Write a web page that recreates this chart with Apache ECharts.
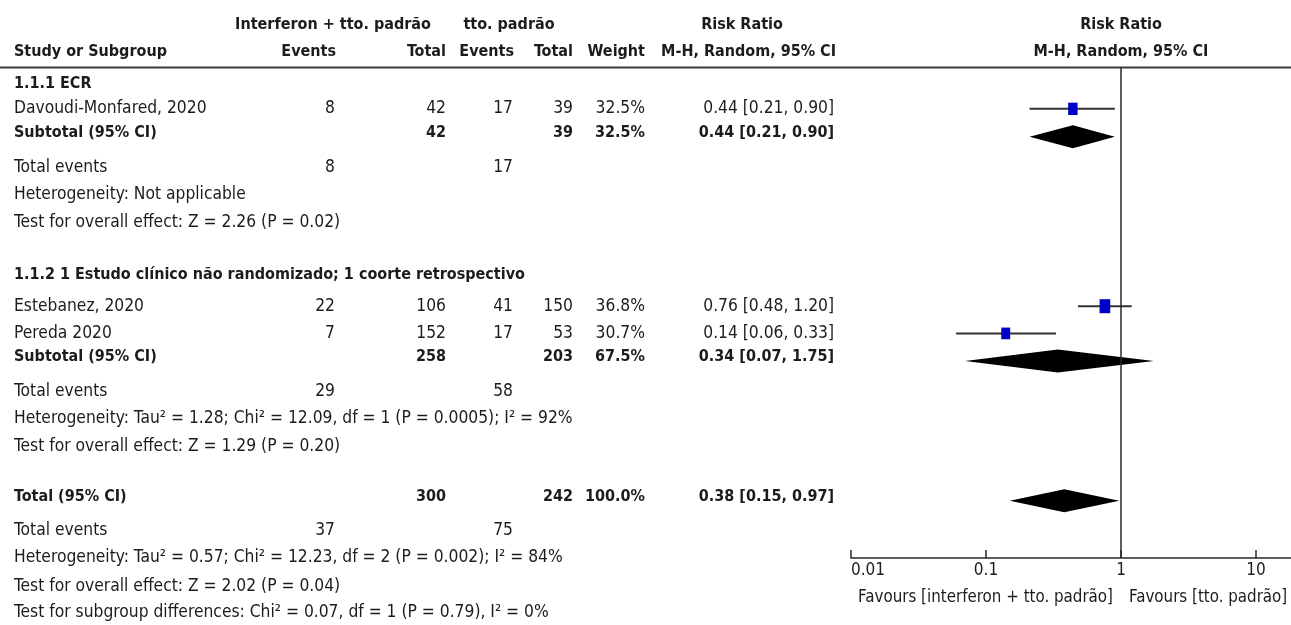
<!DOCTYPE html>
<html>
<head>
<meta charset="utf-8">
<script src="https://cdn.jsdelivr.net/npm/echarts@6/dist/echarts.min.js"></script>
<style>
  html, body { margin: 0; padding: 0; background: #fff; }
  #chart { width: 1291px; height: 625px; }
</style>
</head>
<body>
<div id="chart"></div>
<script>
// individual studies
const studies = ["Davoudi-Monfared, 2020", "Estebanez, 2020", "Pereda 2020"];
const expEvents = [8, 22, 7];
const expTotal = [42, 106, 152];
const ctlEvents = [17, 41, 17];
const ctlTotal = [39, 150, 53];
const weights = [32.5, 36.8, 30.7];
const rr = [0.44, 0.76, 0.14];
const rrLow = [0.21, 0.48, 0.06];
const rrHigh = [0.90, 1.20, 0.33];

// subtotals and total
const groupTitles = ["1.1.1 ECR", "1.1.2 1 Estudo clínico não randomizado; 1 coorte retrospectivo"];
const pooledNames = ["Subtotal (95% CI)", "Subtotal (95% CI)", "Total (95% CI)"];
const pooledExpTotal = [42, 258, 300];
const pooledCtlTotal = [39, 203, 242];
const pooledWeight = [32.5, 67.5, 100.0];
const pooledRR = [0.44, 0.34, 0.38];
const pooledLow = [0.21, 0.07, 0.15];
const pooledHigh = [0.90, 1.75, 0.97];
const totalExpEvents = [8, 29, 37];
const totalCtlEvents = [17, 58, 75];
const heterogeneity = [
  "Heterogeneity: Not applicable",
  "Heterogeneity: Tau² = 1.28; Chi² = 12.09, df = 1 (P = 0.0005); I² = 92%",
  "Heterogeneity: Tau² = 0.57; Chi² = 12.23, df = 2 (P = 0.002); I² = 84%"
];
const overallEffect = [
  "Test for overall effect: Z = 2.26 (P = 0.02)",
  "Test for overall effect: Z = 1.29 (P = 0.20)",
  "Test for overall effect: Z = 2.02 (P = 0.04)"
];
const subgroupTest = "Test for subgroup differences: Chi² = 0.07, df = 1 (P = 0.79), I² = 0%";
const favourLeft = "Favours [interferon + tto. padrão]";
const favourRight = "Favours [tto. padrão]";

// layout: row positions in line units (y axis 0..18)
const studyRow = [1.5, 8.75, 9.75];
const pooledRow = [2.53, 10.76, 15.9];
const titleRow = [0.59, 7.6];
const eventsRow = [3.64, 11.87, 17.0];
const hetRow = [4.63, 12.86, 18.0];
const effectRow = [5.66, 13.89, 19.03];
const subgroupRow = 20.02;

const GRID_TOP = 68, GRID_H = 490, Y_MAX = 18;
const LINE = GRID_H / Y_MAX;
const FONT = '"DejaVu Sans Condensed", "DejaVu Sans", sans-serif';
const INK = "#1c1c1c";

const fmt = v => v.toFixed(2);
const rrText = (m, l, h) => fmt(m) + " [" + fmt(l) + ", " + fmt(h) + "]";
const yOf = line => GRID_TOP + line * LINE;

// column right edges
const COL = { expEv: 335, expTot: 446, ctlEv: 513, ctlTot: 573, weight: 645, rr: 834 };

const texts = [];
function t(x, y, text, align, bold, size) {
  texts.push({
    type: "text", x: x, y: y, silent: true,
    style: {
      text: text, fill: INK, align: align || "left", verticalAlign: "middle",
      fontFamily: FONT, fontSize: size || (bold ? 16 : 17.3), fontWeight: bold ? "bold" : "normal"
    }
  });
}

// header
t(333, 25, "Interferon + tto. padrão", "center", true);
t(509, 25, "tto. padrão", "center", true);
t(742, 25, "Risk Ratio", "center", true);
t(1121, 25, "Risk Ratio", "center", true);
t(14, 52, "Study or Subgroup", "left", true);
t(COL.expEv + 1, 52, "Events", "right", true);
t(COL.expTot, 52, "Total", "right", true);
t(COL.ctlEv + 1, 52, "Events", "right", true);
t(COL.ctlTot, 52, "Total", "right", true);
t(COL.weight, 52, "Weight", "right", true);
t(COL.rr + 2, 52, "M-H, Random, 95% CI", "right", true);
t(1121, 52, "M-H, Random, 95% CI", "center", true);

// group titles
titleRow.forEach((r, i) => t(14, yOf(r), groupTitles[i], "left", true));

// studies
studies.forEach((s, i) => {
  const y = yOf(studyRow[i]);
  t(14, y, s);
  t(COL.expEv, y, String(expEvents[i]), "right");
  t(COL.expTot, y, String(expTotal[i]), "right");
  t(COL.ctlEv, y, String(ctlEvents[i]), "right");
  t(COL.ctlTot, y, String(ctlTotal[i]), "right");
  t(COL.weight, y, weights[i].toFixed(1) + "%", "right");
  t(COL.rr, y, rrText(rr[i], rrLow[i], rrHigh[i]), "right");
});

// pooled rows
pooledNames.forEach((s, i) => {
  const y = yOf(pooledRow[i] - 0.15);
  t(14, y, s, "left", true);
  t(COL.expTot, y, String(pooledExpTotal[i]), "right", true);
  t(COL.ctlTot, y, String(pooledCtlTotal[i]), "right", true);
  t(COL.weight, y, pooledWeight[i].toFixed(1) + "%", "right", true);
  t(COL.rr, y, rrText(pooledRR[i], pooledLow[i], pooledHigh[i]), "right", true);
  t(14, yOf(eventsRow[i]), "Total events");
  t(COL.expEv, yOf(eventsRow[i]), String(totalExpEvents[i]), "right");
  t(COL.ctlEv, yOf(eventsRow[i]), String(totalCtlEvents[i]), "right");
  t(14, yOf(hetRow[i]), heterogeneity[i]);
  t(14, yOf(effectRow[i]), overallEffect[i]);
});
t(14, yOf(subgroupRow), subgroupTest);

// favours labels
t(1113, 598, favourLeft, "right", false, 16.8);
t(1129, 598, favourRight, "left", false, 16.8);

// header rule
texts.push({
  type: "line", silent: true,
  shape: { x1: 0, y1: 67.5, x2: 1291, y2: 67.5 },
  style: { stroke: "#3a3a3a", lineWidth: 2 }
});

const studyData = studies.map((s, i) => [rr[i], rrLow[i], rrHigh[i], studyRow[i], weights[i]]);
const pooledData = pooledNames.map((s, i) => [pooledRR[i], pooledLow[i], pooledHigh[i], pooledRow[i]]);

const chart = echarts.init(document.getElementById("chart"));
chart.setOption({
  animation: false,
  backgroundColor: "#fff",
  // plot runs 0.01..100, the right end is cut off by the picture edge
  grid: { left: 851, width: 540, top: GRID_TOP, height: GRID_H, outerBoundsMode: "none", containLabel: false },
  xAxis: {
    type: "log",
    logBase: 10,
    min: 0.01,
    max: 100,
    axisLine: { onZero: false, lineStyle: { color: "#2a2a2a", width: 1.5 } },
    axisTick: { inside: true, length: 8, lineStyle: { color: "#2a2a2a", width: 1.5 } },
    splitLine: { show: false },
    axisLabel: {
      color: INK, fontFamily: FONT, fontSize: 17, margin: 4,
      alignMinLabel: "left",
      formatter: v => String(Number(v.toPrecision(6)))
    }
  },
  yAxis: { type: "value", min: 0, max: Y_MAX, inverse: true, show: false },
  series: [
    {
      type: "custom",
      name: "studies",
      data: studyData,
      renderItem: (params, api) => {
        const row = api.value(3);
        const c = api.coord([api.value(0), row]);
        const lo = api.coord([api.value(1), row]);
        const hi = api.coord([api.value(2), row]);
        const w = api.value(4);
        const bw = w * 0.29, bh = w * 0.38;
        return {
          type: "group",
          children: [
            { type: "line", shape: { x1: lo[0], y1: lo[1], x2: hi[0], y2: hi[1] },
              style: { stroke: "#333", lineWidth: 2 } },
            { type: "rect", shape: { x: c[0] - bw / 2, y: c[1] - bh / 2, width: bw, height: bh },
              style: { fill: "#0000c8" } }
          ]
        };
      },
      markLine: {
        silent: true,
        symbol: "none",
        label: { show: false },
        lineStyle: { color: "#2a2a2a", width: 1.5, type: "solid" },
        data: [{ xAxis: 1 }]
      }
    },
    {
      type: "custom",
      name: "pooled",
      data: pooledData,
      renderItem: (params, api) => {
        const row = api.value(3);
        const c = api.coord([api.value(0), row]);
        const lo = api.coord([api.value(1), row]);
        const hi = api.coord([api.value(2), row]);
        const hh = 11.5;
        return {
          type: "polygon",
          shape: { points: [[lo[0], lo[1]], [c[0], c[1] - hh], [hi[0], hi[1]], [c[0], c[1] + hh]] },
          style: { fill: "#000" }
        };
      }
    }
  ],
  graphic: { elements: texts }
});
</script>
</body>
</html>
